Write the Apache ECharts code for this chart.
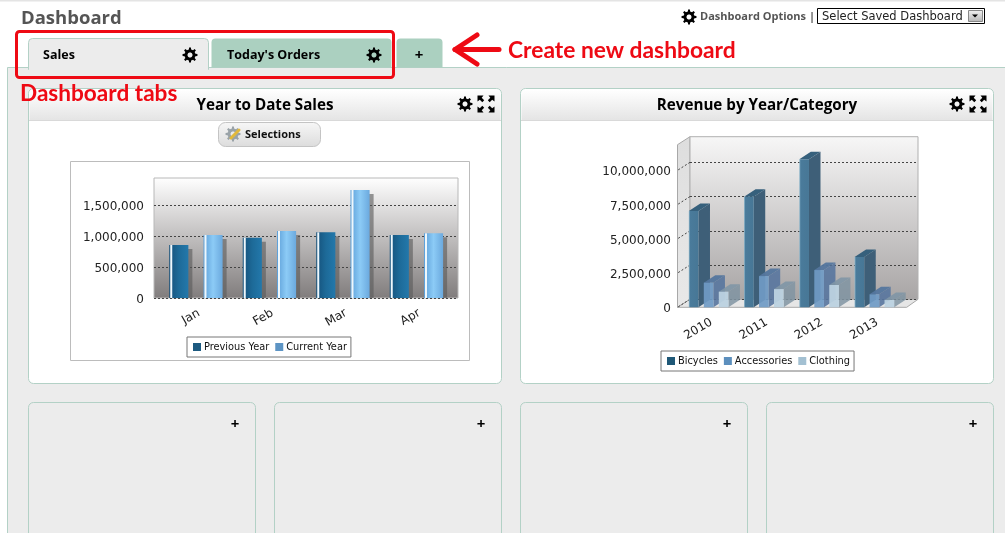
<!DOCTYPE html>
<html>
<head>
<meta charset="utf-8">
<title>Dashboard</title>
<script src="https://cdn.jsdelivr.net/npm/echarts@6/dist/echarts.min.js"></script>
<style>
html,body{margin:0;padding:0;background:#fff;overflow:hidden}
#main{width:1005px;height:533px}
</style>
</head>
<body>
<div id="main"></div>
<script>
// Year to Date Sales
var months = ['Jan', 'Feb', 'Mar', 'Apr'];
var previousYear = [855000, 973000, 1059000, 1016000];
var currentYear = [1016000, 1080000, 1742000, 1043000];
var salesTicks = 500000;

// Revenue by Year/Category
var years = ['2010', '2011', '2012', '2013'];
var bicycles = [7030000, 8070000, 10800000, 3670000];
var accessories = [1800000, 2280000, 2720000, 950000];
var clothing = [1140000, 1330000, 1630000, 530000];
var revenueTicks = [0, 2500000, 5000000, 7500000, 10000000];

var BORDER = '#b3d1c6', TAB = '#abd0c0', PANEL = '#ececec', RED = '#ee0a14';
var UI_FONT = '"Open Sans", sans-serif';
var HAND_FONT = 'Lato, sans-serif';
var AXIS_FONT = '"DejaVu Sans", sans-serif';

function vgrad(a, b) {
	return new echarts.graphic.LinearGradient(0, 0, 0, 1, [{offset: 0, color: a}, {offset: 1, color: b}]);
}
function hgrad(stops) {
	return new echarts.graphic.LinearGradient(0, 0, 1, 0, stops);
}

var chrome = [];
function box(x, y, w, h, fill, stroke, r, z) {
	chrome.push({
		type: 'rect', z: z === undefined ? -5 : z, silent: true,
		shape: {x: x + 0.5, y: y + 0.5, width: w, height: h, r: r || 0},
		style: {fill: fill || 'none', stroke: stroke || 'none', lineWidth: 1}
	});
}
function label(str, x, y, font, fill, align) {
	chrome.push({
		type: 'text', z: 5, silent: true,
		style: {text: str, x: x, y: y, font: font, fill: fill || '#000',
			align: align || 'left', verticalAlign: 'middle', textAlign: align || 'left', textVerticalAlign: 'middle'}
	});
}
function poly(points, fill, stroke, z) {
	chrome.push({
		type: 'polygon', z: z === undefined ? -2 : z, silent: true,
		shape: {points: points},
		style: {fill: fill, stroke: stroke || 'none', lineWidth: 1}
	});
}
function stroke(points, color, width) {
	chrome.push({
		type: 'polyline', z: 5, silent: true,
		shape: {points: points},
		style: {stroke: color, lineWidth: width, fill: 'none', lineCap: 'round', lineJoin: 'round'}
	});
}
// eight tooth cog, the hole is joined on by a seam and wound the other way round
function gear(cx, cy, r, fill) {
	var n = 8, i, a, s = Math.PI / n, pts = [];
	for (i = 0; i < n; i++) {
		a = i / n * Math.PI * 2;
		[[a - s * 0.52, 0.74], [a - s * 0.32, 1], [a + s * 0.32, 1], [a + s * 0.52, 0.74]].forEach(function (p) {
			pts.push([cx + Math.cos(p[0]) * r * p[1], cy + Math.sin(p[0]) * r * p[1]]);
		});
	}
	pts.push(pts[0]);
	for (i = 0; i <= 12; i++) {
		a = -i / 12 * Math.PI * 2 + (-s * 0.52);
		pts.push([cx + Math.cos(a) * r * 0.34, cy + Math.sin(a) * r * 0.34]);
	}
	poly(pts, fill || '#000', null, 5);
}
function expandIcon(cx, cy) {
	[[-1, -1], [1, -1], [-1, 1], [1, 1]].forEach(function (c) {
		var sx = c[0], sy = c[1];
		poly([[cx + sx * 8.5, cy + sy * 8.5], [cx + sx * 2.5, cy + sy * 8.5], [cx + sx * 4.3, cy + sy * 6.2], [cx + sx * 1.8, cy + sy * 3.7], [cx + sx * 3.7, cy + sy * 1.8], [cx + sx * 6.2, cy + sy * 4.3], [cx + sx * 8.5, cy + sy * 2.5]], '#000', null, 5);
	});
}
function plus(cx, cy) {
	label('+', cx, cy + 1.5, 'bold 15px ' + UI_FONT, '#000', 'center');
}
function widget(x, title, titleX) {
	box(x, 88, 473, 295, '#fff', BORDER, 5);
	box(x + 1, 89, 471, 31, vgrad('#ffffff', '#e4e4e4'), null, [4, 4, 0, 0]);
	chrome.push({type: 'line', z: -4, silent: true, shape: {x1: x + 1, y1: 120.5, x2: x + 473, y2: 120.5}, style: {stroke: '#d9d9d9'}});
	label(title, titleX, 106, 'bold 15.2px ' + UI_FONT, '#000', 'center');
	gear(x + 437, 104, 7.5);
	expandIcon(x + 458, 104);
}

// page header, tabs and annotations
chrome.push({type: 'rect', z: -6, silent: true, shape: {x: 0, y: 0, width: 1005, height: 1.5}, style: {fill: '#e4e4e4'}});
label('Dashboard', 21, 19, 'bold 18.5px ' + UI_FONT, '#555');
gear(689, 17, 7.5);
label('Dashboard Options', 700, 17, 'bold 11px ' + UI_FONT, '#555');
label('|', 809, 17, 'bold 11px ' + UI_FONT, '#555');
box(817, 8, 167, 15, '#fff', '#000');
label('Select Saved Dashboard', 822, 17, '11.5px ' + AXIS_FONT, '#222');
box(968, 10, 14, 11, vgrad('#f2f2f2', '#b5b5b5'), '#888');
poly([[972, 14.5], [978, 14.5], [975, 17.5]], '#000', null, 5);

box(7, 67, 1010, 480, PANEL, BORDER);
box(28, 38, 180, 31, PANEL, BORDER, [4, 4, 0, 0]);
chrome.push({type: 'rect', z: -4, silent: true, shape: {x: 29, y: 60, width: 179, height: 12}, style: {fill: PANEL}});
box(211, 38, 180, 29, TAB, null, [4, 4, 0, 0]);
box(396, 38, 46, 29, TAB, null, [4, 4, 0, 0]);
label('Sales', 43, 55, 'bold 12.5px ' + UI_FONT, '#000');
gear(190, 55, 7.5);
label("Today's Orders", 227, 55, 'bold 12.5px ' + UI_FONT, '#000');
gear(374, 55, 7.5);
plus(419, 54);

// widgets
widget(28, 'Year to Date Sales', 265);
widget(520, 'Revenue by Year/Category', 757);

box(218, 122, 102, 24, vgrad('#f7f7f7', '#dcdcdc'), '#c4c4c4', 7);
gear(233, 134, 7.5, '#9aa3a8');
stroke([[231, 138], [239, 130]], '#e2b93b', 3);
label('Selections', 245, 134.5, 'bold 11px ' + UI_FONT, '#111');

box(70, 161, 399, 199, '#fff', '#bcbcbc');
[28, 274, 520, 766].forEach(function (x) {
	box(x, 402, 227, 150, PANEL, BORDER, 5);
	plus(x + 207, 423);
});

// 3D walls of the revenue chart
poly([[677.5, 144.7], [690, 136.7], [690, 299.3], [677.5, 307.3]], vgrad('#dedede', '#e8e8e8'), '#a8a8a8');
poly([[677.5, 307.3], [690, 299.3], [918, 299.3], [906.7, 307.3]], '#e6e6e6', '#a8a8a8');

// red call-outs stay on top of everything
chrome.push({
	type: 'rect', z: 6, silent: true,
	shape: {x: 16.5, y: 31.5, width: 377, height: 46, r: 3},
	style: {fill: 'none', stroke: RED, lineWidth: 3}
});
stroke([[499, 49.5], [455, 49.5]], RED, 5);
stroke([[477, 35], [455, 49.5], [477, 64]], RED, 5);
label('Create new dashboard', 508, 51, 'bold 22.8px ' + HAND_FONT, RED);
label('Dashboard tabs', 20, 93.5, 'bold 22.6px ' + HAND_FONT, RED);

// flat bars with a drop shadow and a pale left edge
function salesBar(offset, stops) {
	return function (params, api) {
		var base = api.coord([api.value(0), 0]);
		var top = api.coord([api.value(0), api.value(1)]);
		var band = api.size([1, 0])[0];
		var w = band * 0.26;
		var x = base[0] + band * offset - w / 2;
		var h = base[1] - top[1];
		return {
			type: 'group',
			children: [
				{type: 'rect', shape: {x: x + 4, y: top[1] + 4, width: w, height: h - 4}, style: {fill: 'rgba(90,90,90,0.62)'}},
				{type: 'rect', shape: {x: x, y: top[1], width: w, height: h}, style: {fill: hgrad(stops)}},
				{type: 'rect', shape: {x: x + 1, y: top[1], width: 2, height: h}, style: {fill: '#eef7fc'}}
			]
		};
	};
}
// bar with front, side and top faces
function revenueBar(offset, front, side, lid) {
	return function (params, api) {
		var base = api.coord([api.value(0), 0]);
		var top = api.coord([api.value(0), api.value(1)]);
		var band = api.size([1, 0])[0];
		var w = band * 0.175, dx = 11.5, dy = 7.5;
		var x = base[0] + band * offset - w / 2, r = x + w;
		return {
			type: 'group',
			children: [
				{type: 'polygon', shape: {points: [[r, base[1]], [r + dx, base[1] - dy], [r + dx, top[1] - dy], [r, top[1]]]}, style: {fill: side}},
				{type: 'polygon', shape: {points: [[x, top[1]], [x + dx, top[1] - dy], [r + dx, top[1] - dy], [r, top[1]]]}, style: {fill: lid}},
				{type: 'rect', shape: {x: x, y: top[1], width: w, height: base[1] - top[1]}, style: {fill: front}}
			]
		};
	};
}
// slanted grid lines on the left wall
function wallTick(params, api) {
	var p = api.coord([0, api.value(0)]);
	return {
		type: 'line',
		shape: {x1: p[0], y1: p[1], x2: p[0] - 12.5, y2: p[1] + 8},
		style: {stroke: '#444', lineWidth: 1, lineDash: [2, 2]}
	};
}
function points(values) {
	return values.map(function (v, i) { return [i, v]; });
}

var salesMax = 1935000, revenueMax = 11870000;
function yLabels() {
	return {
		color: '#222', fontFamily: AXIS_FONT, fontSize: 12, margin: 10, showMaxLabel: false,
		verticalAlign: 'top', lineHeight: 4,	// sits a little under its grid line
		formatter: function (v) { return echarts.format.addCommas(v); }
	};
}
function catAxis(cats, gridIndex) {
	return {
		type: 'category', gridIndex: gridIndex, data: cats,
		axisLine: {show: false}, axisTick: {show: false},
		axisLabel: {rotate: 30, color: '#222', fontFamily: AXIS_FONT, fontSize: 12, margin: 9, interval: 0, verticalAlign: 'top'}
	};
}
var hiddenCat = {type: 'value', min: 0, max: 1, show: false};
function legend(names, left, top) {
	return {
		data: names, left: left, top: top, orient: 'horizontal', padding: [5, 4, 5, 6],
		backgroundColor: '#fff', borderColor: '#777', borderWidth: 1, borderRadius: 0,
		itemWidth: 8, itemHeight: 8, itemGap: 6, icon: 'rect', selectedMode: false,
		textStyle: {fontFamily: AXIS_FONT, fontSize: 9.8, color: '#111', padding: [0, 0, 0, -2]}
	};
}

var myChart = echarts.init(document.getElementById('main'));
var option = {
	animation: false,
	graphic: {elements: chrome},
	legend: [
		legend(['Previous Year', 'Current Year'], 187, 337),
		legend(['Bicycles', 'Accessories', 'Clothing'], 661, 351)
	],
	grid: [
		{left: 154, top: 178, width: 304, height: 120, show: true, borderColor: '#b8b8b8', backgroundColor: vgrad('#ffffff', '#807c7c')},
		{left: 159.25, top: 178, width: 294, height: 120},
		{left: 690, top: 136.7, width: 228, height: 162.6, show: true, borderColor: '#b0b0b0', backgroundColor: vgrad('#f7f7f7', '#a8a5a5')},
		{left: 681, top: 144.7, width: 221, height: 162.6}
	],
	xAxis: [
		hiddenCat,
		catAxis(months, 1),
		Object.assign({gridIndex: 2}, hiddenCat),
		catAxis(years, 3)
	],
	yAxis: [
		{type: 'value', gridIndex: 0, min: 0, max: salesMax, interval: salesTicks,
			axisLine: {show: false}, axisTick: {show: false}, axisLabel: yLabels(),
			splitLine: {show: true, showMaxLine: false, lineStyle: {color: '#444', type: [2, 2]}}},
		{type: 'value', gridIndex: 1, min: 0, max: salesMax, show: false, splitLine: {show: false}},
		{type: 'value', gridIndex: 2, min: 0, max: revenueMax, interval: 2500000, axisLabel: {show: false},
			axisLine: {show: false}, axisTick: {show: false},
			splitLine: {show: true, showMaxLine: false, lineStyle: {color: '#444', type: [2, 2]}}},
		{type: 'value', gridIndex: 3, min: 0, max: revenueMax, interval: 2500000,
			axisLine: {show: false}, axisTick: {show: false}, axisLabel: yLabels(), splitLine: {show: false}}
	],
	series: [
		{name: 'Previous Year', type: 'custom', xAxisIndex: 1, yAxisIndex: 1, data: points(previousYear), itemStyle: {color: '#1d5a80'},
			renderItem: salesBar(-0.234, [{offset: 0, color: '#15507a'}, {offset: 0.5, color: '#1d6a98'}, {offset: 1, color: '#2378ab'}])},
		{name: 'Current Year', type: 'custom', xAxisIndex: 1, yAxisIndex: 1, data: points(currentYear), itemStyle: {color: '#5d94c4'},
			renderItem: salesBar(0.232, [{offset: 0, color: '#5d9fd8'}, {offset: 0.5, color: '#8ccbf6'}, {offset: 1, color: '#6ba9de'}])},
		{type: 'custom', xAxisIndex: 2, yAxisIndex: 2, data: revenueTicks.map(function (v) { return [v]; }),
			encode: {y: 0}, renderItem: wallTick, silent: true},
		{name: 'Bicycles', type: 'custom', xAxisIndex: 3, yAxisIndex: 3, data: points(bicycles), itemStyle: {color: '#1f5877'},
			renderItem: revenueBar(-0.271, hgrad([{offset: 0, color: '#8fb8cc'}, {offset: 0.15, color: '#4a7b9b'}, {offset: 1, color: '#477796'}]), '#3e5f78', '#36607c')},
		{name: 'Accessories', type: 'custom', xAxisIndex: 3, yAxisIndex: 3, data: points(accessories), itemStyle: {color: '#5c8fbd'},
			renderItem: revenueBar(0, 'rgba(112,155,198,0.92)', 'rgba(88,118,158,0.9)', 'rgba(84,118,158,0.95)')},
		{name: 'Clothing', type: 'custom', xAxisIndex: 3, yAxisIndex: 3, data: points(clothing), itemStyle: {color: '#a3c0d2'},
			renderItem: revenueBar(0.271, 'rgba(188,210,224,0.95)', 'rgba(128,148,162,0.85)', 'rgba(128,150,166,0.9)')}
	]
};
myChart.setOption(option, true);
</script>
</body>
</html>
